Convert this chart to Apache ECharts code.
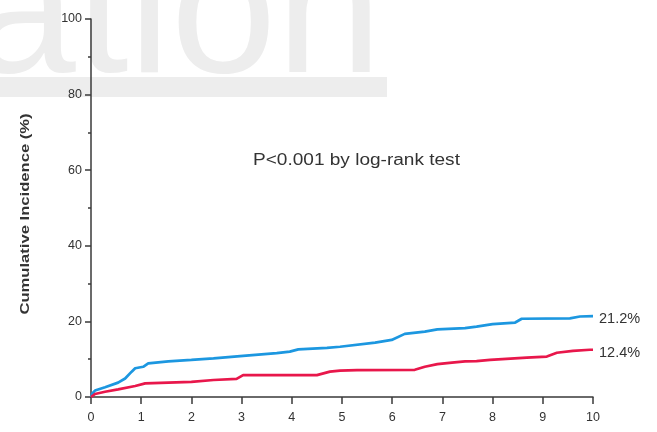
<!DOCTYPE html>
<html>
<head>
<meta charset="utf-8">
<script src="https://cdn.jsdelivr.net/npm/echarts@6/dist/echarts.min.js"></script>
<style>
html,body{margin:0;padding:0;background:#fff;}
#chart{width:657px;height:432px;}
</style>
</head>
<body>
<div id="chart"></div>
<script>
const xTicks = [0,1,2,3,4,5,6,7,8,9,10];
const yTicks = [0,20,40,60,80,100];
const blueTime = [0, 0.03, 0.08, 0.28, 0.54, 0.68, 0.81, 0.88, 1.04, 1.14, 1.54, 2.0, 2.44, 3.03, 3.7, 3.96, 4.13, 4.7, 4.96, 5.66, 5.99, 6.25, 6.65, 6.9, 7.45, 7.68, 8.0, 8.45, 8.58, 9.54, 9.74, 10];
const blueInc  = [0, 1.0, 1.7, 2.6, 3.8, 4.9, 6.7, 7.6, 8.0, 8.9, 9.4, 9.8, 10.2, 10.9, 11.6, 12.0, 12.6, 13.0, 13.3, 14.4, 15.1, 16.7, 17.3, 17.9, 18.2, 18.6, 19.3, 19.7, 20.7, 20.8, 21.3, 21.4];
const redTime = [0, 0.08, 0.28, 0.54, 0.88, 1.08, 1.54, 2.0, 2.44, 2.9, 3.03, 4.5, 4.76, 4.96, 5.3, 6.45, 6.65, 6.9, 7.19, 7.45, 7.68, 7.95, 8.68, 9.08, 9.28, 9.6, 9.94, 10];
const redInc  = [0, 0.8, 1.4, 2.0, 2.9, 3.6, 3.8, 4.0, 4.5, 4.8, 5.8, 5.8, 6.7, 7.0, 7.1, 7.2, 8.0, 8.7, 9.1, 9.4, 9.5, 9.8, 10.4, 10.7, 11.7, 12.2, 12.5, 12.5];
const blueEndLabel = '21.2%';
const redEndLabel = '12.4%';
const yAxisTitle = 'Cumulative Incidence (%)';
const annotation = 'P<0.001 by log-rank test';
const watermark = 'ation';

const chart = echarts.init(document.getElementById('chart'));
const font = 'Arial, "Liberation Sans", sans-serif';
const axisColor = '#3a3a3a';
chart.setOption({
  animation: false,
  backgroundColor: '#fff',
  grid: {left: 91, right: 64, top: 19, bottom: 35},
  graphic: [
    {type: 'text', z: -10, x: -30, y: -75, silent: true,
     style: {text: watermark, font: '190px Arial, "Liberation Sans", sans-serif', fill: '#ededed', textAlign: 'left', textVerticalAlign: 'top'}},
    {type: 'rect', z: -10, silent: true, shape: {x: 0, y: 77, width: 387, height: 20}, style: {fill: '#ededed'}},
    {type: 'text', x: 253, y: 153, scaleX: 1.19, silent: true,
     style: {text: annotation, font: '16px ' + font, fill: '#333', textAlign: 'left', textVerticalAlign: 'top'}},
    {type: 'text', x: 25, y: 214, rotation: Math.PI / 2, scaleX: 1.23, silent: true,
     style: {text: yAxisTitle, font: 'bold 13.5px ' + font, fill: '#333', textAlign: 'center', textVerticalAlign: 'middle'}}
  ],
  xAxis: {
    type: 'value', min: 0, max: 10, interval: 1,
    axisLine: {show: true, lineStyle: {color: axisColor, width: 1.5}},
    axisTick: {show: true, length: 7, lineStyle: {color: axisColor, width: 1.5}},
    splitLine: {show: false},
    axisLabel: {color: '#333', fontSize: 12.5, fontFamily: font, margin: 14,
      formatter: v => xTicks.includes(v) ? String(v) : ''}
  },
  yAxis: {
    type: 'value', min: 0, max: 100, interval: 20,
    axisLine: {show: true, lineStyle: {color: axisColor, width: 1.5}},
    axisTick: {show: true, length: 6, lineStyle: {color: axisColor, width: 1.5}},
    minorTick: {show: true, splitNumber: 2, length: 3, lineStyle: {color: axisColor, width: 1.5}},
    splitLine: {show: false},
    axisLabel: {color: '#333', fontSize: 12.5, fontFamily: font, margin: 9,
      formatter: v => yTicks.includes(v) ? String(v) : ''}
  },
  series: [
    {type: 'line', name: 'blue', showSymbol: false, symbol: 'none', z: 3,
     data: blueTime.map((t, i) => [t, blueInc[i]]),
     lineStyle: {color: '#1c97e0', width: 2.7},
     endLabel: {show: true, formatter: blueEndLabel, color: '#333', fontSize: 14.5, fontFamily: font, offset: [0, 3], distance: 6}},
    {type: 'line', name: 'red', showSymbol: false, symbol: 'none', z: 4,
     data: redTime.map((t, i) => [t, redInc[i]]),
     lineStyle: {color: '#e8174b', width: 2.7},
     endLabel: {show: true, formatter: redEndLabel, color: '#333', fontSize: 14.5, fontFamily: font, offset: [0, 3], distance: 6}}
  ]
});
</script>
</body>
</html>
